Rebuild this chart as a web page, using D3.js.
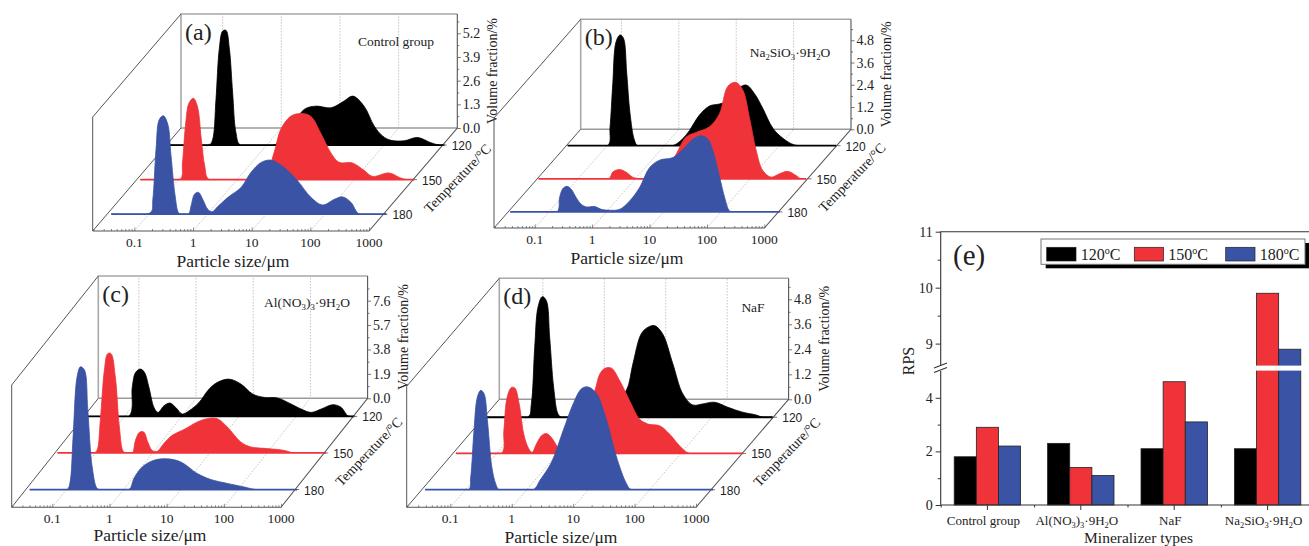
<!DOCTYPE html>
<html>
<head>
<meta charset="utf-8">
<title>Particle size and RPS</title>
<script src="https://cdn.jsdelivr.net/npm/d3@7"></script>
<style>
  html, body { margin: 0; padding: 0; background: #fff; overflow: hidden; }
  svg { display: block; }
  text { font-family: "Liberation Serif", serif; fill: #222; }
  .sans { font-family: "Liberation Sans", sans-serif; }
</style>
</head>
<body>
<svg width="1309" height="546"></svg>
<script>
/* temperatures and size ticks */
const temps = [120, 150, 180];
const sizeTicks = [0.1, 1, 10, 100, 1000];
const sizeMinor = [0.02, 0.03, 0.04, 0.05, 0.06, 0.07, 0.08, 0.09, 0.2, 0.3, 0.4, 0.5, 0.6, 0.7, 0.8, 0.9,
                   2, 3, 4, 5, 6, 7, 8, 9, 20, 30, 40, 50, 60, 70, 80, 90, 200, 300, 400, 500, 600, 700, 800, 900];
const colors = { 120: "#000000", 150: "#ef3339", 180: "#3a53a4" };

/* curves: [log10(size/um), volume fraction %] */
const a120 = [[-1.65,0],[-.977,0],[-.92,.31],[-.864,2.5],[-.807,5.3],[-.75,6.26],[-.693,6.3],[-.636,5.3],[-.58,2.87],[-.523,.68],[-.449,0],
  [.13,0],[.36,.68],[.64,1.96],[.84,2.14],[1.1,2.05],[1.32,2.42],[1.47,2.69],[1.66,2.14],[1.835,1.04],[1.98,.49],[2.12,.26],[2.35,.24],[2.57,.42],[2.8,.13],[2.94,0],[3.03,0]];
const a150 = [[-1.65,0],[-.97,0],[-.93,.92],[-.875,3.1],[-.82,4.2],[-.744,4.47],[-.676,4.03],[-.608,2.2],[-.55,.73],[-.477,0],
  [.43,0],[.63,1.47],[.744,2.75],[.915,3.48],[1.085,3.63],[1.256,3.48],[1.426,2.56],[1.6,1.47],[1.74,.95],[1.966,.92],[2.165,.51],[2.307,.18],[2.59,.37],[2.79,.09],[2.9,0],[3.02,0]];
const a180 = [[-1.64,0],[-.97,.09],[-.93,.82],[-.875,3.6],[-.82,5.2],[-.75,5.4],[-.676,4.95],[-.62,3.2],[-.55,1],[-.494,.09],[-.45,0],[-.324,0],[-.278,.46],[-.22,1.1],[-.153,1.2],[-.08,.82],[.006,.27],[.08,.13],
  [.176,.42],[.347,.92],[.574,1.47],[.744,2.3],[.915,2.84],[1.085,2.97],[1.31,2.56],[1.54,1.83],[1.767,.92],[1.966,.51],[2.165,.82],[2.307,.95],[2.45,.64],[2.59,0],[3.05,0]];

const b120 = [[-1.686,0],[-.988,0],[-.948,1],[-.9,3.35],[-.843,5.6],[-.773,5.97],[-.715,5.8],[-.657,3.9],[-.6,1.74],[-.523,.3],[-.465,0],
  [.145,0],[.378,.58],[.61,1.65],[.785,2.14],[.96,2.25],[1.134,2.45],[1.25,3],[1.424,3.27],[1.57,2.8],[1.715,2],[1.89,.94],[2.064,.4],[2.267,.04],[2.587,0],[2.994,0]];
const b150 = [[-1.686,0],[-.465,0],[-.395,.36],[-.28,.5],[-.163,.36],[-.047,.09],[.07,0],[.3,0],[.477,.45],[.68,1.17],[.884,2.25],[1.058,2.5],[1.29,2.8],[1.465,3.5],[1.61,4.98],[1.744,5.2],[1.87,4.8],[1.988,3.3],[2.105,1.53],[2.22,.45],[2.366,.09],[2.51,.27],[2.657,.4],[2.8,.18],[2.884,0],[2.977,0]];
const b180 = [[-1.674,0],[-.86,0],[-.814,.77],[-.756,1.26],[-.686,1.38],[-.61,1.22],[-.523,.77],[-.436,.41],[-.349,.27],[-.2,.29],[-.087,.14],[.058,.09],[.233,.14],[.407,.59],[.58,1.31],[.756,2.39],[.93,2.79],[1.163,2.93],[1.337,3.38],[1.51,3.92],[1.657,4.1],[1.773,3.92],[1.86,3.27],[1.977,1.85],[2.064,.77],[2.15,.05],[2.24,0],[3.02,0]];

const c120 = [[-1.68,0],[-.924,0],[-.865,2.26],[-.807,3.42],[-.72,3.68],[-.65,3.42],[-.573,2.26],[-.485,.7],[-.415,.31],[-.31,.83],[-.205,1.04],[-.105,.7],[.012,.18],[.129,.44],[.304,1.09],[.48,2.13],[.626,2.65],[.83,2.9],[1.035,2.52],[1.24,1.74],[1.444,1.48],[1.678,1.43],[1.912,.96],[2.088,.57],[2.263,.31],[2.439,.57],[2.643,.91],[2.79,.7],[2.906,.05],[3.02,0]];
const c150 = [[-1.664,0],[-1.032,0],[-.974,.2],[-.915,2.54],[-.845,6.4],[-.786,7.73],[-.728,7.73],[-.652,5.9],[-.582,2.03],[-.506,.08],[-.418,0],[-.354,0],[-.3,.99],[-.225,1.63],[-.155,1.63],[-.085,.86],[-.009,.2],[.08,.13],[.196,.73],[.342,1.37],[.547,1.82],[.78,2.41],[.956,2.67],[1.13,2.67],[1.307,2.02],[1.54,.86],[1.716,.47],[2.01,.34],[2.3,.2],[2.477,0],[3.03,0]];
const c180 = [[-1.643,0],[-.988,0],[-.94,.47],[-.883,4.1],[-.813,8.77],[-.754,9.55],[-.684,9.3],[-.626,6.2],[-.55,1.77],[-.462,.08],[-.4,0],[.094,0],[.18,.86],[.327,1.76],[.532,2.28],[.766,2.39],[1,2.15],[1.292,1.24],[1.526,.78],[1.82,.47],[2.11,.2],[2.316,0],[3.035,0]];

const d120 = [[-1.66,0],[-.992,0],[-.938,.64],[-.883,3.36],[-.83,5.28],[-.76,5.79],[-.694,5.6],[-.64,3.84],[-.575,1.44],[-.504,.16],[-.45,0],[.173,0],[.39,.64],[.607,1.28],[.715,2.56],[.85,4],[.96,4.32],[1.068,4.4],[1.2,4],[1.366,2.56],[1.528,1.12],[1.69,.59],[1.854,.64],[2.043,.72],[2.26,.48],[2.504,.24],[2.72,.11],[2.83,0],[2.99,0]];
const d150 = [[-1.66,0],[-.92,0],[-.88,1.09],[-.827,2.69],[-.756,3.17],[-.7,3.14],[-.63,2.37],[-.556,.93],[-.485,.29],[-.42,.05],[-.35,.45],[-.268,.85],[-.187,.96],[-.106,.77],[.003,.29],[.084,.13],[.355,1.25],[.6,3],[.68,3.8],[.76,4.08],[.87,4.1],[1.005,3.5],[1.168,2.53],[1.33,1.65],[1.466,1.41],[1.656,1.33],[1.818,.93],[1.98,.37],[2.143,0],[3.01,0]];
const d180 = [[-1.656,0],[-.95,0],[-.913,.61],[-.86,2.85],[-.805,4.45],[-.75,4.77],[-.696,4.61],[-.642,3.33],[-.57,1.09],[-.507,.29],[-.45,0],[.106,0],[.214,.45],[.404,1.33],[.593,2.85],[.756,4.13],[.892,4.85],[1,4.93],[1.135,4.61],[1.298,3.33],[1.46,1.57],[1.623,.29],[1.705,0],[3.03,0]];

/* volume ticks per panel */
const aVolTicks = [0, 1.3, 2.6, 3.9, 5.2];
const bVolTicks = [0, 1.2, 2.4, 3.6, 4.8];
const cVolTicks = [0, 1.9, 3.8, 5.7, 7.6];
const dVolTicks = [0, 1.2, 2.4, 3.6, 4.8];

/* bar chart (e) */
const mineralizers = ["Control group", "Al(NO3)3·9H2O", "NaF", "Na2SiO3·9H2O"];
const rps120 = [1.8, 2.3, 2.1, 2.1];
const rps150 = [2.9, 1.4, 4.6, 9.9];
const rps180 = [2.2, 1.1, 3.1, 8.9];

/* panel layout: front-left corner, width, wall height, depth offset */
const panels = [
  { tag: "(a)", name: "Control group", x0: 92.7, y0: 231, w: 276.3, h: 114, dx: 88.3, dy: 103, top: 6.26,
    ticks: aVolTicks, curves: [a120, a150, a180], nameX: 396, nameY: 46, labelX: 233, labelY: 266.5 },
  { tag: "(b)", name: "Na2SiO3·9H2O", x0: 494, y0: 228, w: 270.3, h: 110, dx: 86.7, dy: 98.7, top: 5.93,
    ticks: bVolTicks, curves: [b120, b150, b180], nameX: 790, nameY: 57, labelX: 627, labelY: 263.5 },
  { tag: "(c)", name: "Al(NO3)3·9H2O", x0: 11.7, y0: 507.3, w: 269.3, h: 122.3, dx: 86.6, dy: 109, top: 9.52,
    ticks: cVolTicks, curves: [c120, c150, c180], nameX: 307, nameY: 306.7, labelX: 150, labelY: 540.5 },
  { tag: "(d)", name: "NaF", x0: 406.7, y0: 507.3, w: 289.3, h: 121, dx: 92.6, dy: 108, top: 5.81,
    ticks: dVolTicks, curves: [d120, d150, d180], nameX: 753, nameY: 312, labelX: 561, labelY: 542.5 }
];

const svg = d3.select("svg");
const defs = svg.append("defs");

/* digits after a letter or bracket go down as subscripts */
function chem(sel, str, size) {
  let shift = 0;
  str.split(/(?<=[A-Za-z)])(\d)/).forEach((part, i) => {
    if (!part) return;
    const sub = i % 2 === 1;
    sel.append("tspan")
      .attr("dy", (sub ? 3 : 0) + shift)
      .attr("font-size", sub ? size * 0.65 : size)
      .text(part);
    shift = sub ? -3 : 0;
  });
}

const depth = d3.scaleLinear().domain([180, 120]).range([0.163, 0.834]);

function drawPanel(p, pi) {
  const g = svg.append("g");
  const x = d3.scaleLog().domain([0.0195, 1000]).range([p.x0, p.x0 + p.w]);
  const y = d3.scaleLinear().domain([0, p.top]).range([0, p.h]);
  const backY = p.y0 - p.dy, topY = backY - p.h;

  /* grid on the floor and back wall */
  const grid = g.append("g").attr("stroke", "#bdbdbd").attr("stroke-width", 0.9).attr("stroke-dasharray", "1.5 1.5").attr("fill", "none");
  sizeTicks.slice(0, 4).forEach(s => {
    grid.append("path").attr("d", d3.line()([[x(s), p.y0], [x(s) + p.dx, backY], [x(s) + p.dx, topY]]));
  });

  /* frame */
  const frame = g.append("g").attr("fill", "none");
  frame.append("path").attr("stroke", "#a8a8a8").attr("stroke-width", 1.6)
    .attr("d", d3.line()([[p.x0 + p.dx, backY], [p.x0 + p.dx, topY], [p.x0 + p.w + p.dx, topY]]));
  frame.append("path").attr("stroke", "#9a9a9a").attr("stroke-width", 1.4)
    .attr("d", d3.line()([[p.x0 + p.dx, backY], [p.x0 + p.w + p.dx, backY]]));
  frame.append("path").attr("stroke", "#555").attr("stroke-width", 1)
    .attr("d", d3.line()([[p.x0, p.y0 - p.h], [p.x0 + p.dx, topY]]));
  frame.append("path").attr("stroke", "#555").attr("stroke-width", 1)
    .attr("d", d3.line()([[p.x0, p.y0 - p.h], [p.x0, p.y0], [p.x0 + p.dx, backY]]));
  frame.append("path").attr("stroke", "#555").attr("stroke-width", 1.1)
    .attr("d", d3.line()([[p.x0 + p.w + p.dx, topY], [p.x0 + p.w + p.dx, backY], [p.x0 + p.w, p.y0], [p.x0, p.y0]]));

  /* curves, back one first */
  temps.forEach((t, i) => {
    const z = depth(t);
    const base = p.y0 - z * p.dy;
    const px = d => x(Math.pow(10, d[0])) + z * p.dx;
    const area = d3.area()
      .curve(d3.curveCatmullRom.alpha(0.5))
      .x(px)
      .y0(base)
      .y1(d => base - y(d[1]));
    // the spline dips a little under zero on the flat parts, cut that off
    const clipId = `floor-${pi}-${t}`;
    defs.append("clipPath").attr("id", clipId).append("rect")
      .attr("x", 0).attr("y", 0).attr("width", 1309).attr("height", base);
    g.append("path").datum(p.curves[i])
      .attr("d", area)
      .attr("clip-path", `url(#${clipId})`)
      .attr("fill", colors[t])
      .attr("stroke", colors[t])
      .attr("stroke-width", 0.8)
      .attr("stroke-linejoin", "round");
    const ends = d3.extent(p.curves[i], px);
    g.append("line").attr("x1", ends[0]).attr("x2", ends[1]).attr("y1", base).attr("y2", base)
      .attr("stroke", colors[t]).attr("stroke-width", 1.8);
  });

  /* x axis */
  const xMinor = d3.axisTop(x).tickValues(sizeMinor).tickSize(2).tickFormat("");
  const xMajor = d3.axisTop(x).tickValues(sizeTicks).tickSize(3.5).tickFormat("");
  [xMinor, xMajor].forEach(ax => {
    const a = g.append("g").attr("transform", `translate(0,${p.y0})`).call(ax);
    a.select(".domain").remove();
    a.selectAll("line").attr("stroke", "#555").attr("stroke-width", 0.7);
  });
  g.selectAll(null).data(sizeTicks).enter().append("text")
    .attr("x", d => x(d))
    .attr("y", p.y0 + 16)
    .attr("text-anchor", "middle")
    .attr("font-size", 13.5)
    .text(d => d);
  g.append("text").attr("x", p.labelX).attr("y", p.labelY)
    .attr("text-anchor", "middle").attr("font-size", 17.5).text("Particle size/\u03bcm");

  /* volume axis on the wall */
  const vy = d3.scaleLinear().domain([0, p.top]).range([backY, topY]);
  const step = p.ticks[1];
  const vMinor = d3.range(1, 2 * Math.floor(p.top / step) + 2, 2).map(k => k * step / 2).filter(v => v < p.top);
  const rightX = p.x0 + p.w + p.dx;
  const vAxisMinor = d3.axisRight(vy).tickValues(vMinor).tickSize(2).tickFormat("");
  const vAxis = d3.axisRight(vy).tickValues(p.ticks).tickSize(3.5).tickPadding(2).tickFormat(d3.format(".1f"));
  [vAxisMinor, vAxis].forEach(ax => {
    const a = g.append("g").attr("transform", `translate(${rightX},0)`).call(ax);
    a.attr("font-family", null).attr("font-size", 14);
    a.select(".domain").remove();
    a.selectAll("line").attr("stroke", "#555").attr("stroke-width", 0.8);
    a.selectAll("text").attr("fill", "#222");
  });
  g.append("text")
    .attr("transform", `translate(${rightX + 40},${(backY + topY) / 2}) rotate(-90)`)
    .attr("text-anchor", "middle").attr("font-size", 14).text("Volume fraction/%");

  /* temperature axis */
  temps.forEach(t => {
    const z = depth(t);
    const ex = p.x0 + p.w + z * p.dx, ey = p.y0 - z * p.dy;
    g.append("line").attr("x1", ex).attr("y1", ey).attr("x2", ex + 4).attr("y2", ey)
      .attr("stroke", "#555").attr("stroke-width", 0.8);
    g.append("text").attr("class", "sans").attr("x", ex + 9).attr("y", ey + 5)
      .attr("font-size", 12).text(t);
  });
  const mid = depth(150);
  g.append("text")
    .attr("transform", `translate(${p.x0 + p.w + mid * p.dx + 48},${p.y0 - mid * p.dy + 2}) rotate(-46)`)
    .attr("text-anchor", "middle").attr("font-size", 14).text("Temperature/\u00b0C");

  /* panel tag and name */
  g.append("text").attr("x", p.x0 + p.dx + 4).attr("y", topY + 26).attr("font-size", 24).text(p.tag);
  const nm = g.append("text").attr("x", p.nameX).attr("y", p.nameY).attr("text-anchor", "middle");
  chem(nm, p.name, 13.5);
}

panels.forEach(drawPanel);

/* bar chart with a broken axis */
function drawBars() {
  const g = svg.append("g");
  const left = 940.7, bottom = 505, topLine = 231.7, right = 1314;
  const yLow = d3.scaleLinear().domain([0, 5]).range([bottom, 371]);
  const yHigh = d3.scaleLinear().domain([8.6, 11]).range([366, topLine]);
  const yVal = v => v <= 5 ? yLow(v) : yHigh(v);

  const band = d3.scaleBand().domain(mineralizers.concat("")).range([left, left + 5 * 93.4]);
  const inner = d3.scaleBand().domain(temps).range([0, band.bandwidth()]).paddingOuter(0.61).paddingInner(0);
  const rows = [rps120, rps150, rps180];

  temps.forEach((t, i) => {
    g.selectAll(null).data(mineralizers).enter().append("rect")
      .attr("x", d => band(d) + inner(t))
      .attr("y", (d, j) => yVal(rows[i][j]))
      .attr("width", inner.bandwidth())
      .attr("height", (d, j) => bottom - yVal(rows[i][j]))
      .attr("fill", colors[t])
      .attr("stroke", "#222")
      .attr("stroke-width", 0.8);
  });

  /* white gap through the tall bars */
  g.append("rect").attr("x", band(mineralizers[3]) + inner(150) - 0.5).attr("y", 365.6)
    .attr("width", 60).attr("height", 5).attr("fill", "#fff");

  /* axes */
  const ink = "#333";
  const axes = g.append("g").attr("fill", "none").attr("stroke", ink).attr("stroke-width", 1.1);
  axes.append("path").attr("d", d3.line()([[right, topLine], [left, topLine], [left, 366]]));
  axes.append("path").attr("d", d3.line()([[left, 371], [left, bottom], [right, bottom]]));
  axes.append("path").attr("d", d3.line()([[934, 368], [947, 363]]));
  axes.append("path").attr("d", d3.line()([[934, 372.5], [947, 367.5]]));

  const styleAxis = a => {
    a.attr("font-family", null).attr("font-size", 14);
    a.select(".domain").remove();
    a.selectAll("line").attr("stroke", ink).attr("stroke-width", 1);
    a.selectAll("text").attr("fill", "#222");
  };
  g.append("g").attr("transform", `translate(${left},0)`)
    .call(d3.axisLeft(yLow).tickValues([0, 2, 4]).tickSize(5).tickPadding(3).tickFormat(d3.format("d"))).call(styleAxis);
  g.append("g").attr("transform", `translate(${left},0)`)
    .call(d3.axisLeft(yLow).tickValues([1, 3]).tickSize(3).tickFormat("")).call(styleAxis);
  g.append("g").attr("transform", `translate(${left},0)`)
    .call(d3.axisLeft(yHigh).tickValues([9, 10, 11]).tickSize(5).tickPadding(3).tickFormat(d3.format("d"))).call(styleAxis);
  g.append("g").attr("transform", `translate(${left},0)`)
    .call(d3.axisLeft(yHigh).tickValues([9.5, 10.5]).tickSize(3).tickFormat("")).call(styleAxis);

  g.append("g").attr("transform", `translate(0,${bottom})`)
    .call(d3.axisBottom(band).tickSize(5).tickFormat("")).call(styleAxis);
  g.append("g").attr("transform", `translate(0,${bottom})`)
    .call(d3.axisBottom(d3.scaleLinear().domain([0, 4]).range([left, left + 4 * 93.4])).ticks(4).tickSize(2.5).tickFormat("")).call(styleAxis);

  mineralizers.forEach(m => {
    const t = g.append("text").attr("x", band(m) + band.bandwidth() / 2 - 4).attr("y", 525).attr("text-anchor", "middle");
    chem(t, m, 13);
  });
  g.append("text").attr("x", 1138.5).attr("y", 543).attr("text-anchor", "middle").attr("font-size", 15.5).text("Mineralizer types");
  g.append("text").attr("transform", "translate(914,361) rotate(-90)").attr("text-anchor", "middle").attr("font-size", 16).text("RPS");
  g.append("text").attr("x", 953).attr("y", 265).attr("font-size", 29).text("(e)");

  /* legend */
  g.append("rect").attr("x", 1045.7).attr("y", 243).attr("width", 264).attr("height", 25.3).attr("fill", "#000");
  g.append("rect").attr("x", 1041).attr("y", 239).attr("width", 264).attr("height", 25.3).attr("fill", "#fff").attr("stroke", "#777");
  const swatchX = { 120: 1046.7, 150: 1134.3, 180: 1225.7 };
  temps.forEach(t => {
    g.append("rect").attr("x", swatchX[t]).attr("y", 247.3).attr("width", 29.3).attr("height", 13.7)
      .attr("fill", colors[t]).attr("stroke", "#222").attr("stroke-width", 0.7);
    const lab = g.append("text").attr("x", swatchX[t] + 34).attr("y", 259.5).attr("font-size", 16);
    lab.append("tspan").text(t);
    lab.append("tspan").attr("dy", -6).attr("font-size", 10).text("o");
    lab.append("tspan").attr("dy", 6).text("C");
  });
}

drawBars();
</script>
</body>
</html>
